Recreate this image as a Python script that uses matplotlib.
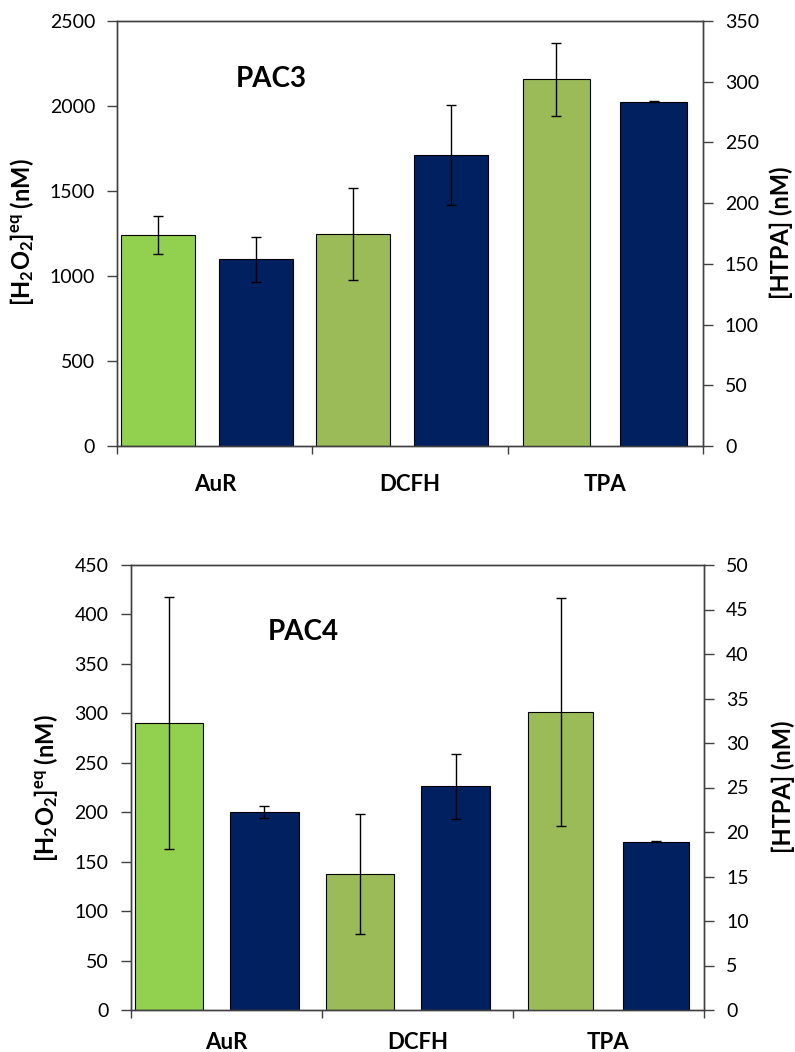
import numpy as np
import matplotlib
matplotlib.use('Agg')
from matplotlib import pyplot as plt

plt.rcParams['font.family'] = ['Lato', 'DejaVu Sans']
plt.rcParams['mathtext.fontset'] = 'custom'
plt.rcParams['mathtext.rm'] = 'Lato'
plt.rcParams['mathtext.bf'] = 'Lato:bold'

# 数据
cats = ['AuR', 'DCFH', 'TPA']
green_cols = ['#92D050', '#9BBB59', '#9BBB59']
blue_col = '#002060'

# PAC3 (AuR, DCFH 左轴 nM H2O2 eq; TPA 右轴 nM HTPA)
pac3_green = [1241, 1245, 302]
pac3_green_err = [113, 270, 30]
pac3_blue = [1098, 1710, 283.5]
pac3_blue_err = [134, 293, 0.3]

# PAC4
pac4_green = [290, 137.5, 33.45]
pac4_green_err = [127.5, 61, 12.8]
pac4_blue = [200.2, 226.2, 18.9]
pac4_blue_err = [5.7, 33, 0.05]

fig = plt.figure(figsize=(7.95, 10.52), dpi=100)


def draw_panel(rect, green, green_err, blue, blue_err, ymax_l, ystep_l, ymax_r, ystep_r,
               off1, off2, w, title, title_xy, pad):
    ax = fig.add_axes(rect)
    ax2 = ax.twinx()
    idx = np.arange(len(cats))
    # 左轴: AuR, DCFH
    for i in range(2):
        ax.bar(i + off1, green[i], width=w, color=green_cols[i], edgecolor='black', linewidth=0.8, zorder=2)
        ax.bar(i + off2, blue[i], width=w, color=blue_col, edgecolor='black', linewidth=0.8, zorder=2)
        ax.errorbar(i + off1, green[i], yerr=green_err[i], fmt='none', ecolor='black',
                    elinewidth=1, capsize=3.5, capthick=1, zorder=3)
        ax.errorbar(i + off2, blue[i], yerr=blue_err[i], fmt='none', ecolor='black',
                    elinewidth=1, capsize=3.5, capthick=1, zorder=3)
    # 右轴: TPA
    i = 2
    w2 = 0.343
    ax2.bar(i + 0.25, green[i], width=w2, color=green_cols[i], edgecolor='black', linewidth=0.8, zorder=2)
    ax2.bar(i + 0.75, blue[i], width=w2, color=blue_col, edgecolor='black', linewidth=0.8, zorder=2)
    ax2.errorbar(i + 0.25, green[i], yerr=green_err[i], fmt='none', ecolor='black',
                 elinewidth=1, capsize=3.5, capthick=1, zorder=3)
    ax2.errorbar(i + 0.75, blue[i], yerr=blue_err[i], fmt='none', ecolor='black',
                 elinewidth=1, capsize=3.5, capthick=1, zorder=3)

    ax.set_xlim(0, 3)
    ax.set_ylim(0, ymax_l)
    ax2.set_ylim(0, ymax_r)
    ax.set_yticks(np.arange(0, ymax_l + 1, ystep_l))
    ax2.set_yticks(np.arange(0, ymax_r + 0.01, ystep_r))
    ax.set_xticks([0, 1, 2, 3])
    ax.set_xticklabels([])
    ax.set_xticks(idx + 0.5, minor=True)
    ax.set_xticklabels(cats, minor=True, fontsize=16, fontweight='bold')
    ax.tick_params(axis='x', which='minor', length=0, pad=pad)
    ax.tick_params(axis='x', which='major', direction='out', length=6, width=1, color='#404040')
    ax.tick_params(axis='y', direction='out', length=7, width=1, labelsize=14, color='#404040', pad=9)
    ax2.tick_params(axis='y', direction='out', length=7, width=1, labelsize=14, color='#404040', pad=9)
    for a in [ax, ax2]:
        for s in ['top', 'bottom', 'left', 'right']:
            a.spines[s].set_color('#404040')
            a.spines[s].set_linewidth(1)
    ax.text(title_xy[0], title_xy[1], title, transform=fig.transFigure, fontsize=20,
            fontweight='bold', ha='center', va='center')
    return ax, ax2


draw_panel([117.3 / 795, 1 - 446 / 1052, (702.7 - 117.3) / 795, (446 - 21) / 1052],
           pac3_green, pac3_green_err, pac3_blue, pac3_blue_err,
           2500, 500, 350, 50, 0.21, 0.71, 0.38, 'PAC3', (271.7 / 795, 1 - 79 / 1052), 20)
draw_panel([130.7 / 795, 1 - 1010 / 1052, (704 - 130.7) / 795, (1010 - 565) / 1052],
           pac4_green, pac4_green_err, pac4_blue, pac4_blue_err,
           450, 50, 50, 5, 0.20, 0.70, 0.36, 'PAC4', (303 / 795, 1 - 631.7 / 1052), 15.5)

ylab_l = r'$\mathbf{[H_2O_2]^{eq}}$ (nM)'
ylab_r = '[HTPA] (nM)'
fig.text(22 / 795, 1 - 232 / 1052, ylab_l, rotation=90, fontsize=17, fontweight='bold', ha='center', va='center')
fig.text(781 / 795, 1 - 233 / 1052, ylab_r, rotation=90, fontsize=17, fontweight='bold', ha='center', va='center')
fig.text(46 / 795, 1 - 788 / 1052, ylab_l, rotation=90, fontsize=17, fontweight='bold', ha='center', va='center')
fig.text(783 / 795, 1 - 787 / 1052, ylab_r, rotation=90, fontsize=17, fontweight='bold', ha='center', va='center')

plt.savefig('out.png', dpi=100, facecolor='white')
